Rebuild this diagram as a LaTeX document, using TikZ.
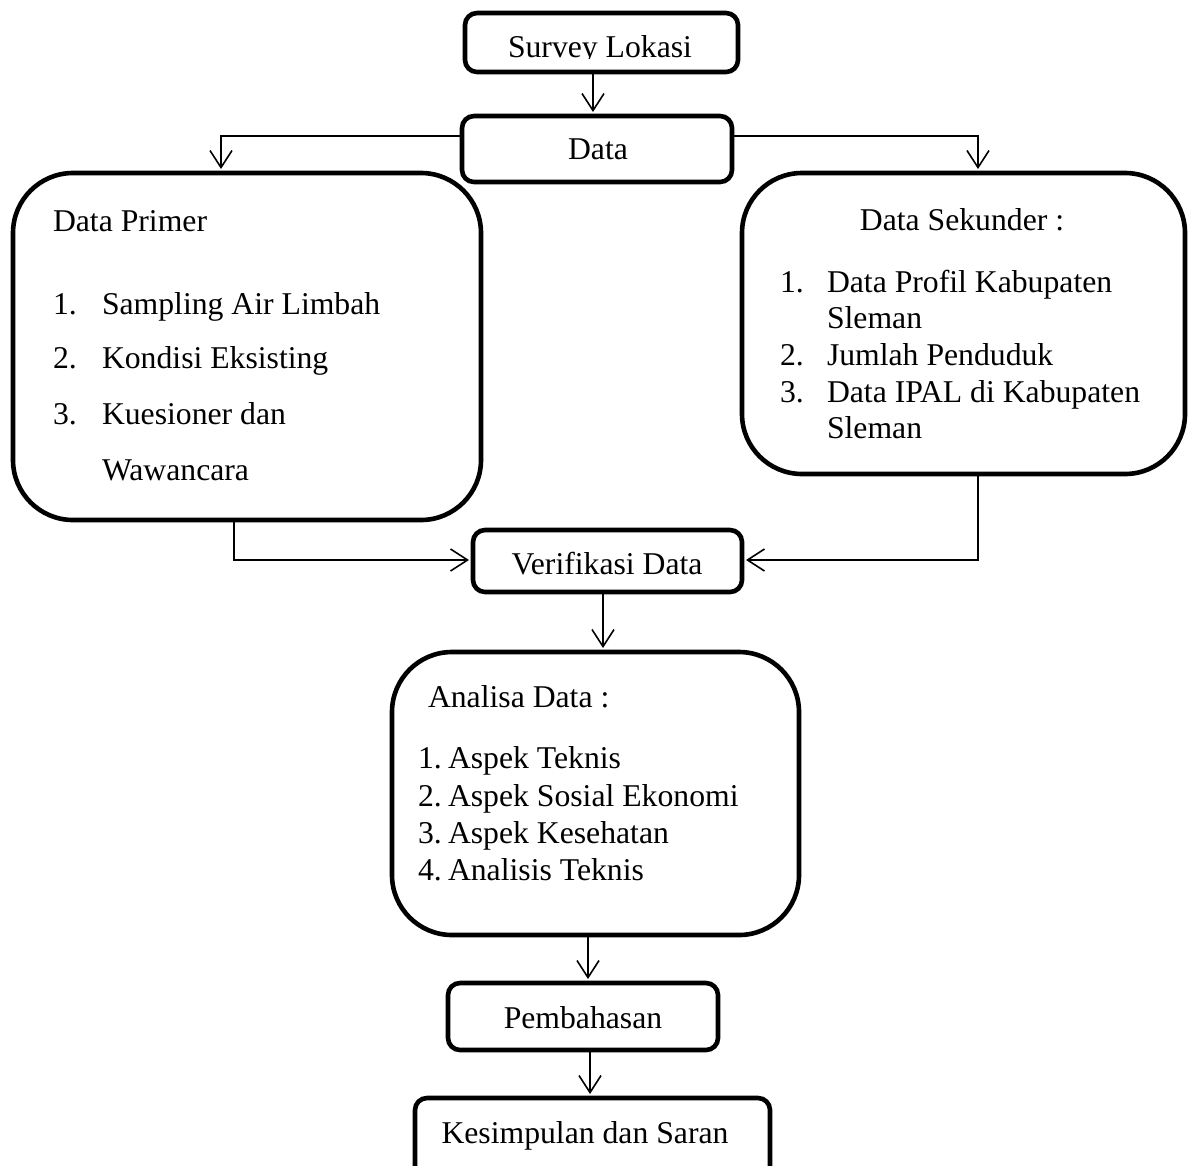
\documentclass[tikz,border=0pt]{standalone}
\usepackage{fontspec}
\setmainfont{Liberation Serif}
\usetikzlibrary{arrows.meta}
\begin{document}
\begin{tikzpicture}[x=1pt,y=-1pt,
  box/.style={draw, line width=4.6pt, rounded corners=12pt, inner sep=0pt, outer sep=0pt},
  bigbox/.style={draw, line width=4.6pt, rounded corners=60pt, inner sep=0pt, outer sep=0pt},
  conn/.style={line width=1.6pt, shorten >=4pt, -{Straight Barb[length=17pt,width=22pt,line width=1.6pt]}},
  lbl/.style={font=\fontsize{31.7}{38}\selectfont, inner sep=0pt, outer sep=0pt},
  lbw/.style={lbl, anchor=base west},
  lbc/.style={lbl, anchor=base},
]
\useasboundingbox (0,0) rectangle (1188,1165);

% boxes
\node[box, minimum width=273pt, minimum height=59pt] (survey) at (601.5,42.5) {};
\node[box, minimum width=270pt, minimum height=66pt] (data) at (597,149) {};
\node[bigbox, minimum width=468pt, minimum height=347pt] (pri) at (247,346.5) {};
\node[bigbox, minimum width=443pt, minimum height=301pt] (sek) at (963.5,323.5) {};
\node[box, minimum width=269pt, minimum height=62pt] (verif) at (607.5,561) {};
\node[bigbox, minimum width=407pt, minimum height=283pt] (ana) at (595.5,793.5) {};
\node[box, minimum width=270pt, minimum height=67pt] (pemb) at (583,1016.5) {};
\node[box, minimum width=355pt, minimum height=87pt] (kes) at (592.5,1141.5) {};

% texts
\begin{scope}
\clip (465,13) rectangle (738,58);
\node[lbc] (tsurvey) at (600,57) {Survey Lokasi};
\end{scope}
\node[lbc] (tdata) at (598,159) {Data};

\node[lbw] (tpri) at (53,231.5) {Data Primer};
\node[lbw] (p1n) at (53,314) {1.};
\node[lbw] (p1) at (102,314) {Sampling Air Limbah};
\node[lbw] (p2n) at (53,368) {2.};
\node[lbw] (p2) at (102,368) {Kondisi Eksisting};
\node[lbw] (p3n) at (53,424) {3.};
\node[lbw] (p3) at (102,424) {Kuesioner dan};
\node[lbw] (p3b) at (102,480) {Wawancara};

\node[lbc] (tsek) at (962,230) {Data Sekunder :};
\node[lbw] (s1n) at (780,292) {1.};
\node[lbw] (s1) at (827,292) {Data Profil Kabupaten};
\node[lbw] (s1b) at (827,328) {Sleman};
\node[lbw] (s2n) at (780,365) {2.};
\node[lbw] (s2) at (827,365) {Jumlah Penduduk};
\node[lbw] (s3n) at (780,402) {3.};
\node[lbw] (s3) at (827,402) {Data IPAL di Kabupaten};
\node[lbw] (s3b) at (827,438) {Sleman};

\node[lbc] (tverif) at (607,574) {Verifikasi Data};

\node[lbw] (tana) at (428,707) {Analisa Data :};
\node[lbw] (a1n) at (418,768) {1.};
\node[lbw] (a1) at (448,768) {Aspek Teknis};
\node[lbw] (a2n) at (418,806) {2.};
\node[lbw] (a2) at (448,806) {Aspek Sosial Ekonomi};
\node[lbw] (a3n) at (418,843) {3.};
\node[lbw] (a3) at (448,843) {Aspek Kesehatan};
\node[lbw] (a4n) at (418,880) {4.};
\node[lbw] (a4) at (448,880) {Analisis Teknis};

\node[lbc] (tpemb) at (583,1028) {Pembahasan};
\node[lbc] (tkes) at (585,1143) {Kesimpulan dan Saran};

% connectors
\draw[conn] ([xshift=-8.5pt]survey.south) -- ([xshift=-8.5pt]survey.south |- data.north);
\draw[conn] ([yshift=13pt]data.west) -| ([xshift=-26pt]pri.north);
\draw[conn] ([yshift=13pt]data.east) -| ([xshift=14.5pt]sek.north);
\draw[conn] ([xshift=-13pt]pri.south) |- ([yshift=1pt]verif.west);
\draw[conn] ([xshift=14.5pt]sek.south) |- ([yshift=1pt]verif.east);
\draw[conn] ([xshift=-4.5pt]verif.south) -- ([xshift=-4.5pt]verif.south |- ana.north);
\draw[conn] ([xshift=-7.5pt]ana.south) -- ([xshift=-7.5pt]ana.south |- pemb.north);
\draw[conn] ([xshift=7pt]pemb.south) -- ([xshift=7pt]pemb.south |- kes.north);
\end{tikzpicture}
\end{document}
